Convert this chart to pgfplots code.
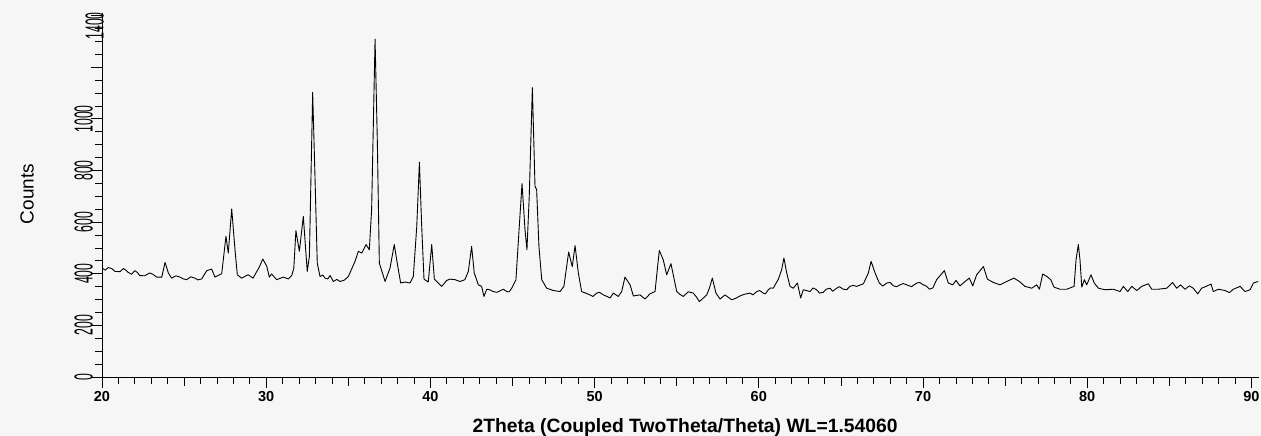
\documentclass[border=0pt]{standalone}
\usepackage{pgfplots}
\pgfplotsset{compat=1.18}
\usepackage{fontspec}
\setmainfont{Liberation Sans}
\definecolor{bg}{gray}{0.965}
\pgfplotstableread{
x y
20.0 422
20.2 414
20.38 424
20.6 420
20.79 409
21.1 408
21.3 420
21.45 414
21.6 405
21.8 398
22.0 412
22.15 405
22.3 393
22.6 392
22.9 403
23.1 398
23.33 387
23.64 387
23.84 444
24.04 403
24.24 383
24.5 392
24.75 387
24.95 380
25.16 377
25.4 388
25.66 383
25.85 376
26.07 380
26.38 412
26.68 418
26.88 387
27.29 400
27.55 545
27.69 480
27.9 651
28.1 493
28.24 396
28.5 383
28.9 396
29.2 383
29.58 426
29.79 457
30.03 430
30.19 387
30.33 399
30.64 377
31.04 387
31.35 380
31.55 393
31.68 420
31.81 567
32.02 487
32.26 622
32.5 409
32.63 467
32.83 1102
32.97 778
33.11 441
33.28 389
33.45 395
33.58 383
33.75 380
33.89 393
34.09 370
34.3 378
34.5 370
34.75 375
35.0 389
35.41 448
35.61 487
35.82 480
36.08 513
36.28 493
36.42 648
36.63 1309
36.77 907
36.89 441
37.24 370
37.54 422
37.8 513
37.98 441
38.19 364
38.45 368
38.76 364
38.96 389
39.17 584
39.33 832
39.47 584
39.61 379
39.87 368
40.08 513
40.24 379
40.48 364
40.69 351
40.99 374
41.19 379
41.5 377
41.8 370
42.1 377
42.31 409
42.51 506
42.67 403
42.92 357
43.12 351
43.26 312
43.43 340
43.6 338
43.83 331
44.05 328
44.24 334
44.45 340
44.65 331
44.8 330
44.95 344
45.21 377
45.4 571
45.58 749
45.76 571
45.88 493
46.02 700
46.21 1121
46.37 739
46.47 726
46.61 506
46.78 377
47.08 344
47.49 335
47.89 331
48.13 351
48.42 484
48.64 428
48.81 509
49.01 403
49.21 331
49.45 325
49.72 318
49.9 312
50.13 325
50.3 328
50.53 318
50.75 312
50.94 306
51.14 325
51.44 312
51.65 331
51.85 387
52.16 357
52.36 314
52.77 318
53.07 302
53.37 322
53.68 331
53.94 490
54.18 454
54.39 396
54.65 439
55.0 331
55.2 320
55.4 312
55.7 330
56.01 325
56.2 310
56.38 292
56.83 318
56.99 344
57.17 383
57.39 325
57.64 302
57.94 318
58.35 299
58.6 305
58.86 314
59.1 320
59.46 325
59.65 318
59.87 331
60.05 335
60.27 325
60.4 322
60.58 338
60.72 345
60.88 344
61.19 379
61.39 415
61.53 461
61.7 403
61.9 351
62.1 344
62.35 364
62.55 306
62.71 338
63.12 331
63.3 345
63.52 338
63.7 325
63.93 328
64.1 340
64.34 344
64.5 332
64.74 344
64.9 350
65.15 340
65.35 338
65.55 351
65.75 355
65.96 351
66.37 361
66.67 403
66.84 448
67.08 403
67.34 364
67.55 352
67.79 364
68.0 366
68.2 353
68.4 350
68.6 357
68.8 362
69.0 357
69.3 350
69.62 364
69.8 366
70.02 357
70.2 352
70.39 340
70.6 345
70.83 377
71.3 412
71.54 364
71.81 357
72.01 374
72.25 353
72.56 370
72.82 383
73.03 353
73.27 396
73.68 428
73.92 379
74.29 366
74.69 357
75.1 370
75.54 383
75.87 370
76.21 351
76.62 344
76.92 357
77.09 340
77.29 399
77.53 390
77.78 377
77.98 348
78.34 340
78.75 340
79.2 351
79.32 454
79.46 513
79.56 454
79.67 348
79.83 377
79.97 357
80.23 396
80.43 364
80.68 344
81.08 338
81.59 340
82.0 331
82.2 351
82.47 331
82.71 351
83.02 335
83.32 351
83.72 361
83.93 340
84.33 340
84.84 344
85.2 366
85.45 344
85.69 357
85.96 340
86.22 353
86.46 344
86.73 322
86.97 344
87.24 351
87.54 360
87.68 331
87.99 340
88.39 335
88.66 327
88.9 340
89.31 351
89.61 331
89.92 338
90.12 364
90.42 370
}\xrd
\newcommand{\yl}[1]{\rotatebox{90}{\fontsize{26}{26}\selectfont\scalebox{0.47}[1]{#1}}}
\begin{document}
\begin{tikzpicture}[x=1pt,y=1pt]
\fill[bg] (0,0) rectangle (1261,436);
\useasboundingbox (0,0) rectangle (1261,436);
\begin{axis}[
  at={(102pt,59pt)}, anchor=south west,
  scale only axis, width=1157pt, height=364pt,
  xmin=20, xmax=90.46, ymin=0, ymax=1410,
  axis x line*=bottom, axis y line*=left,
  axis line style={-, black, line width=0.8pt},
  tick align=outside,
  tick style={black, line width=0.7pt},
  major tick length=11pt, minor tick length=7pt,
  xtick={20,30,...,90}, minor x tick num=9,
  extra x ticks={25,35,45,55,65,75,85},
  extra x tick labels={},
  extra x tick style={major tick length=9pt},
  ytick={0,200,...,1400},
  yticklabels={\yl{0},\yl{200},\yl{400},\yl{600},\yl{800},\yl{1000},{},{}},
  minor y tick num=3,
  extra y ticks={1360}, extra y tick labels={\yl{1400}},
  extra y tick style={major tick length=0pt, tick style={draw=none}},
  /pgf/number format/assume math mode=true,
  xticklabel style={font=\fontsize{14.5}{14.5}\selectfont\bfseries},
  yticklabel style={anchor=east, inner sep=0pt, xshift=2pt},
  xlabel={2Theta (Coupled TwoTheta/Theta) WL=1.54060},
  xlabel style={at={(axis description cs:0.504,-0.14)}, anchor=center, font=\fontsize{19.3}{19.3}\selectfont\bfseries},
  ylabel={Counts},
  ylabel style={at={(axis description cs:-0.0648,0.503)}, anchor=center, rotate=0, font=\fontsize{19}{19}\selectfont},
  clip=false,
]
\addplot[black, line width=0.9pt, line join=round] table[x=x,y=y] {\xrd};
\end{axis}
\end{tikzpicture}
\end{document}
